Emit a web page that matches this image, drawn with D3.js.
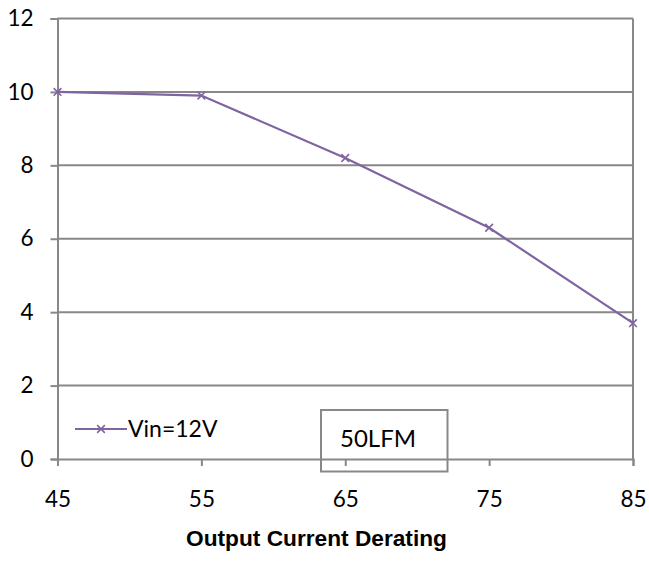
<!DOCTYPE html>
<html>
<head>
<meta charset="utf-8">
<script src="https://cdn.jsdelivr.net/npm/d3@7"></script>
<style>
  body { margin: 0; background: #fff; }
  svg text { font-family: Lato, "Open Sans", sans-serif; fill: #000; }
</style>
</head>
<body>
<svg id="chart" width="649" height="561"></svg>
<script>
const temps = [45, 55, 65, 75, 85];
const current = [10, 9.9, 8.2, 6.3, 3.7];
const xTicks = [45, 55, 65, 75, 85];
const yTicks = [0, 2, 4, 6, 8, 10, 12];
const seriesName = "Vin=12V";
const noteLabel = "50LFM";
const xTitle = "Output Current Derating";

const svg = d3.select("#chart");
const axisColor = "#888888";
const lineColor = "#8064a2";

const margin = { left: 57.5, right: 16, top: 18.5, bottom: 102 };
const width = 649 - margin.left - margin.right;
const height = 561 - margin.top - margin.bottom;

const xScale = d3.scaleLinear().domain([45, 85]).range([0, width]);
const yScale = d3.scaleLinear().domain([0, 12]).range([height, 0]);

const g = svg.append("g").attr("transform", `translate(${margin.left},${margin.top})`);

// gridlines
g.selectAll(".grid")
    .data(yTicks.filter(d => d > 0))
    .join("line")
    .attr("x1", 0).attr("x2", width)
    .attr("y1", d => yScale(d)).attr("y2", d => yScale(d))
    .attr("stroke", axisColor).attr("stroke-width", 2);

// right border
g.append("line")
    .attr("x1", width).attr("x2", width)
    .attr("y1", 0).attr("y2", height)
    .attr("stroke", axisColor).attr("stroke-width", 2);

// y axis
const yAxis = g.append("g")
    .call(d3.axisLeft(yScale).tickValues(yTicks).tickSize(7).tickPadding(17).tickFormat(d3.format("d")));
yAxis.select(".domain").attr("stroke", axisColor).attr("stroke-width", 2);
yAxis.selectAll(".tick line").attr("stroke", axisColor).attr("stroke-width", 2);
yAxis.selectAll(".tick text").attr("font-size", 22.5).attr("font-family", "Lato").attr("fill", "#000");

// x axis
const xAxis = g.append("g")
    .attr("transform", `translate(0,${height})`)
    .call(d3.axisBottom(xScale).tickValues(xTicks).tickSize(7).tickPadding(25).tickFormat(d3.format("d")));
xAxis.select(".domain").attr("stroke", axisColor).attr("stroke-width", 2);
xAxis.selectAll(".tick line").attr("stroke", axisColor).attr("stroke-width", 2);
xAxis.selectAll(".tick text").attr("font-size", 22.5).attr("font-family", "Lato").attr("fill", "#000");

// series
const points = temps.map((t, i) => ({ x: t, y: current[i] }));
g.append("path")
    .datum(points)
    .attr("fill", "none")
    .attr("stroke", lineColor)
    .attr("stroke-width", 2.2)
    .attr("d", d3.line().x(d => xScale(d.x)).y(d => yScale(d.y)));

const cross = d3.symbol().type(d3.symbolX).size(40);
g.selectAll(".marker")
    .data(points)
    .join("path")
    .attr("transform", d => `translate(${xScale(d.x)},${yScale(d.y)})`)
    .attr("d", cross)
    .attr("fill", "none")
    .attr("stroke", lineColor)
    .attr("stroke-width", 1.6);

// legend
const legend = svg.append("g").attr("transform", "translate(75,429)");
legend.append("line").attr("x1", 0).attr("x2", 52).attr("y1", 0).attr("y2", 0)
    .attr("stroke", lineColor).attr("stroke-width", 2.2);
legend.append("path").attr("transform", "translate(26,0)").attr("d", cross)
    .attr("fill", "none").attr("stroke", lineColor).attr("stroke-width", 1.6);
legend.append("text").attr("x", 53).attr("y", 8).attr("font-size", 23).text(seriesName);

// note box
svg.append("rect")
    .attr("x", 321).attr("y", 410).attr("width", 126.5).attr("height", 61.5)
    .attr("fill", "none").attr("stroke", axisColor).attr("stroke-width", 2);
svg.append("text")
    .attr("x", 340).attr("y", 447).attr("font-size", 24).text(noteLabel);

// axis title
svg.append("text")
    .attr("x", 316.5).attr("y", 546)
    .attr("text-anchor", "middle")
    .style("font-family", "'Liberation Sans', Arial, sans-serif")
    .attr("font-weight", "bold")
    .attr("font-size", 22.7)
    .text(xTitle);
</script>
</body>
</html>
